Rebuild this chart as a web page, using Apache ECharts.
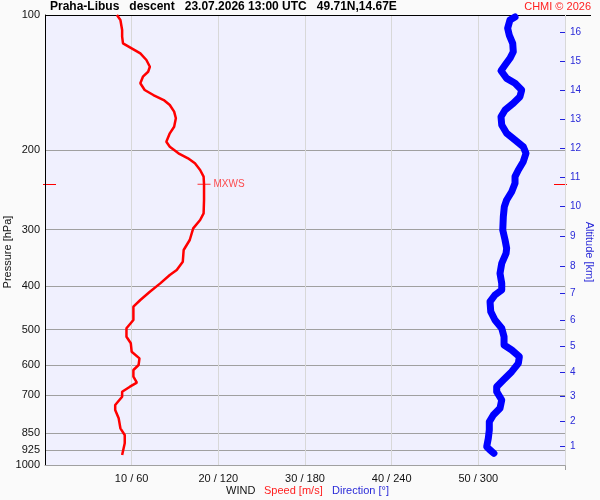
<!DOCTYPE html>
<html><head><meta charset="utf-8">
<script src="https://cdn.jsdelivr.net/npm/echarts@6/dist/echarts.min.js"></script>
<style>html,body{margin:0;padding:0;background:#fafafa}#c{width:600px;height:500px}</style>
</head><body><div id="c"></div>
<script>
// ---- data ----
const pressureTicks = [100, 200, 300, 400, 500, 600, 700, 850, 925, 1000];
const altitudeKm = [1, 2, 3, 4, 5, 6, 7, 8, 9, 10, 11, 12, 13, 14, 15, 16];
const altitudePressure = [907.3, 801.3, 702.5, 623.6, 545.9, 476.1, 415.4, 361.3, 311.0, 266.7, 229.5, 197.8, 170.3, 147.3, 126.7, 109.3];
const speedTicks = [10, 20, 30, 40, 50];
const directionTicks = [60, 120, 180, 240, 300];

const speedPressure = [100, 102.6, 108.0, 111.7, 115.6, 118.6, 121.7, 125.9, 130.3, 133.7,
  137.1, 141.8, 146.8, 150.6, 154.5, 158.5, 164.0, 169.6, 177.1, 183.2,
  191.2, 196.2, 202.9, 208.2, 213.6, 221.0, 228.7, 237.8, 257.7, 275.9,
  285.5, 297.9, 316.2, 332.8, 353.3, 368.7, 378.2, 394.8, 412.1, 429.9,
  444.9, 476.1, 496.8, 518.7, 536.5, 560.1, 579.4, 599.5, 615.0, 636.5,
  656.3, 669.9, 687.2, 705.0, 735.6, 754.7, 787.5, 828.9, 857.7, 894.7, 950.1];
const speedValues = [8.3, 8.7, 8.9, 8.9, 9.0, 10.0, 11.0, 11.7, 12.1, 11.9,
  11.3, 11.0, 11.5, 12.5, 13.7, 14.4, 14.9, 15.1, 14.9, 14.4,
  14.0, 14.4, 15.4, 16.5, 17.3, 17.9, 18.3, 18.35, 18.35, 18.3,
  17.9, 17.1, 16.7, 16.0, 15.9, 15.2, 14.4, 13.3, 12.1, 11.0,
  10.2, 10.2, 9.4, 9.4, 9.9, 10.0, 10.9, 10.8, 10.2, 10.2,
  10.6, 9.8, 8.9, 8.9, 8.1, 8.1, 8.5, 8.7, 9.2, 9.2, 8.9];

const dirPressure = [101, 102.6, 107.0, 110.8, 115.6, 120.7, 124.8, 129.2, 133.0, 138.3,
  141.8, 146.8, 151.9, 157.1, 162.6, 168.3, 175.6, 183.2, 189.6, 196.2,
  202.9, 211.8, 221.0, 228.7, 236.6, 247.0, 257.7, 266.7, 280.7, 300.5,
  316.2, 329.9, 338.5, 356.3, 375.0, 394.8, 408.4, 419.0, 433.6, 456.4,
  476.1, 496.8, 518.7, 541.2, 555.2, 574.6, 594.3, 620.4, 647.3, 669.9,
  687.2, 717.1, 748.2, 774.3, 801.3, 836.1, 872.5, 910.7, 926.3, 942.1];
const dirValues = [325.4, 321.9, 320.3, 321.4, 323.8, 324.2, 321.9, 318.5, 315.7, 319.6,
  325.4, 330.0, 328.8, 324.2, 318.5, 315.7, 316.2, 319.6, 325.4, 331.1,
  333.0, 331.1, 327.7, 325.4, 325.4, 323.1, 319.6, 318.0, 317.3, 316.9,
  318.5, 319.6, 319.2, 316.2, 315.0, 316.2, 316.2, 311.5, 308.1, 308.6,
  311.5, 316.2, 317.8, 317.8, 323.1, 328.4, 327.7, 323.1, 317.3, 312.7,
  312.7, 316.2, 315.0, 310.4, 307.6, 307.6, 306.9, 305.8, 308.1, 310.8];

const mxwsPressure = 237.8;
const mxwsSpeed = 18.35;

const titleText = 'Praha-Libus   descent   23.07.2026 13:00 UTC   49.71N,14.67E';
const copyrightText = 'CHMI \u00a9 2026';

// ---- chart ----
const FONT = 'Liberation Sans, Arial, sans-serif';
const chart = echarts.init(document.getElementById('c'), null, {renderer: 'canvas'});

function altLabel(v) {
  let best = 0, bd = Infinity;
  altitudePressure.forEach((p, i) => { const d = Math.abs(p - v); if (d < bd) { bd = d; best = i; } });
  return String(altitudeKm[best]);
}
function pLabel(v) {
  let best = 0, bd = Infinity;
  pressureTicks.forEach((p, i) => { const d = Math.abs(p - v); if (d < bd) { bd = d; best = i; } });
  return String(pressureTicks[best]);
}

const option = {
  animation: false,
  backgroundColor: '#fafafa',
  grid: {left: 45, right: 35, top: 15, bottom: 35, show: true, backgroundColor: '#f0f0fe', borderWidth: 0},
  xAxis: [
    {
      type: 'value', min: 0, max: 60, interval: 10, position: 'bottom',
      axisLine: {show: true, onZero: false, lineStyle: {color: '#a0a0a0', width: 1}},
      axisTick: {show: false},
      axisLabel: {
        customValues: speedTicks, margin: 8, fontSize: 11, color: '#111', fontFamily: FONT,
        formatter: v => v + ' / ' + directionTicks[speedTicks.indexOf(v)]
      },
      splitLine: {show: true, lineStyle: {color: '#d8d8d8', width: 1}}
    },
    {type: 'value', min: 0, max: 360, position: 'top', show: false}
  ],
  yAxis: [
    {
      type: 'log', logBase: 10, min: 100, max: 1000, inverse: true, position: 'left',
      axisLine: {show: true, onZero: false, lineStyle: {color: '#000', width: 1}},
      axisTick: {show: false, customValues: pressureTicks},
      axisLabel: {customValues: pressureTicks, margin: 5, fontSize: 11, color: '#111', fontFamily: FONT, formatter: pLabel},
      splitLine: {show: true, lineStyle: {color: '#a0a0a0', width: 1}}
    },
    {
      type: 'log', logBase: 10, min: 100, max: 1000, inverse: true, position: 'right',
      axisLine: {show: true, onZero: false, lineStyle: {color: '#d8d8d8', width: 1}},
      axisTick: {show: true, inside: true, length: 5, customValues: altitudePressure, lineStyle: {color: '#2222dd', width: 1}},
      axisLabel: {customValues: altitudePressure, margin: 5, fontSize: 10, color: '#2a2ad8', fontFamily: FONT, formatter: altLabel},
      splitLine: {show: false}
    }
  ],
  series: [
    {
      name: 'Direction', type: 'line', xAxisIndex: 1, yAxisIndex: 0,
      data: dirPressure.map((p, i) => [dirValues[i], p]),
      showSymbol: false, symbol: 'none',
      lineStyle: {color: '#0000ff', width: 7, cap: 'round', join: 'round'}
    },
    {
      name: 'Speed', type: 'line', xAxisIndex: 0, yAxisIndex: 0,
      data: speedPressure.map((p, i) => [speedValues[i], p]),
      showSymbol: false, symbol: 'none',
      lineStyle: {color: '#ff0000', width: 2.5}
    },
    {
      name: 'MXWS', type: 'scatter', xAxisIndex: 0, yAxisIndex: 0,
      data: [[mxwsSpeed, mxwsPressure]],
      symbol: 'path://M0,3.5H12V4.5H0Z M5.5,0H6.5V8H5.5Z', symbolSize: [13, 9],
      itemStyle: {color: '#ff0000'},
      label: {show: true, position: 'right', distance: 3, formatter: 'MXWS', color: '#ff2020', fontSize: 10, fontFamily: FONT}
    }
  ]
};
chart.setOption(option);

const yM = chart.convertToPixel({yAxisIndex: 0}, mxwsPressure);
chart.setOption({
  graphic: [
    {type: 'text', x: 50, y: 7, style: {text: titleText, font: 'bold 12px ' + FONT, fill: '#000', align: 'left', verticalAlign: 'middle'}},
    {type: 'text', x: 591, y: 7, style: {text: copyrightText, font: '11px ' + FONT, fill: '#ff2020', align: 'right', verticalAlign: 'middle'}},
    {type: 'line', shape: {x1: 45, y1: 15.5, x2: 591, y2: 15.5}, style: {stroke: '#000', lineWidth: 1}},
    {type: 'text', x: 8, y: 252, rotation: Math.PI / 2, style: {text: 'Pressure [hPa]', font: '11px ' + FONT, fill: '#111', align: 'center', verticalAlign: 'middle'}},
    {type: 'text', x: 589, y: 252, rotation: -Math.PI / 2, style: {text: 'Altitude [km]', font: '11px ' + FONT, fill: '#2a2ad8', align: 'center', verticalAlign: 'middle'}},
    {type: 'text', x: 226, y: 491, style: {text: 'WIND', font: '11px ' + FONT, fill: '#111', align: 'left', verticalAlign: 'middle'}},
    {type: 'text', x: 264, y: 491, style: {text: 'Speed [m/s]', font: '11px ' + FONT, fill: '#ff2020', align: 'left', verticalAlign: 'middle'}},
    {type: 'text', x: 332, y: 491, style: {text: 'Direction [\u00b0]', font: '11px ' + FONT, fill: '#2a2ad8', align: 'left', verticalAlign: 'middle'}},
    {type: 'line', shape: {x1: 43, y1: Math.round(yM) + 0.5, x2: 56, y2: Math.round(yM) + 0.5}, style: {stroke: '#ff0000', lineWidth: 1}},
    {type: 'line', shape: {x1: 554, y1: Math.round(yM) + 0.5, x2: 567, y2: Math.round(yM) + 0.5}, style: {stroke: '#ff0000', lineWidth: 1}},
    {type: 'line', shape: {x1: 565.5, y1: 465, x2: 565.5, y2: 470}, style: {stroke: '#a0a0a0', lineWidth: 1}}
  ]
});
</script></body></html>
